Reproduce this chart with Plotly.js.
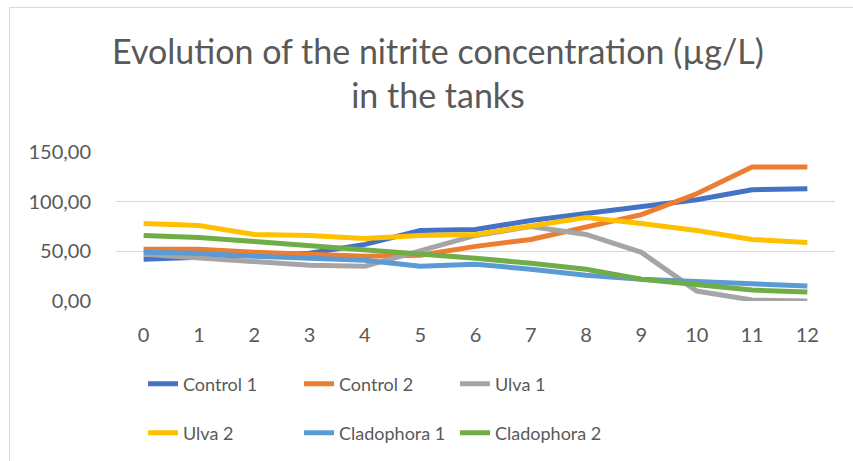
<!DOCTYPE html>
<html>
<head>
<meta charset="utf-8">
<script src="https://cdn.plot.ly/plotly-3.0.1.min.js"></script>
<style>
  html, body { margin: 0; padding: 0; background: #fff; }
  #wrap { position: relative; width: 853px; height: 461px; overflow: hidden; }
  #chart { position: absolute; left: 0; top: 0; width: 853px; height: 461px; }
  #frame { position: absolute; left: 9px; top: 7px; width: 900px; height: 500px;
           border-left: 1.5px solid #d9d9d9; border-top: 1.5px solid #d9d9d9; pointer-events: none; }
</style>
</head>
<body>
<div id="wrap">
  <div id="chart"></div>
  <div id="frame"></div>
</div>
<script>
const days = [0, 1, 2, 3, 4, 5, 6, 7, 8, 9, 10, 11, 12];
const control1 = [42, 44, 45, 48, 57, 71, 72, 81, 88, 95, 102, 112, 113];
const control2 = [52, 52, 49, 47, 45, 46, 55, 62, 74, 87, 108, 135, 135];
const ulva1 = [47, 43, 39, 36, 35, 51, 66, 75, 67, 49, 10, 1, 0];
const ulva2 = [78, 76, 67, 66, 63, 66, 67, 76, 84, 78, 71, 62, 59];
const cladophora1 = [49, 48, 45, 43, 41, 35, 37, 32, 26, 22, 20, 17, 15];
const cladophora2 = [66, 64, 60, 56, 52, 48, 43, 38, 32, 22, 16, 11, 9];
const seriesNames = ["Control 1", "Control 2", "Ulva 1", "Ulva 2", "Cladophora 1", "Cladophora 2"];
const seriesValues = [control1, control2, ulva1, ulva2, cladophora1, cladophora2];
const seriesColors = ["#4472C4", "#ED7D31", "#A5A5A5", "#FFC000", "#5B9BD5", "#70AD47"];
const yTicks = [0, 50, 100, 150];

const txt = "#595959";
const fontFam = "Lato, 'Open Sans', sans-serif";

const traces = seriesValues.map((vals, i) => ({
  type: "scatter",
  mode: "lines",
  name: seriesNames[i],
  x: days.map(String),
  y: vals,
  line: { color: seriesColors[i], width: 5 },
  legend: i < 3 ? "legend" : "legend2"
}));

const legendBase = {
  orientation: "h",
  xanchor: "left",
  yanchor: "middle",
  x: (143 - 116) / 719,
  entrywidth: 111,
  entrywidthmode: "pixels",
  font: { family: fontFam, size: 18, color: txt },
  bgcolor: "rgba(0,0,0,0)",
  traceorder: "normal"
};

const layout = {
  width: 853,
  height: 461,
  margin: { l: 116, r: 18, t: 152, b: 159 },
  paper_bgcolor: "#ffffff",
  plot_bgcolor: "#ffffff",
  separators: ",.",
  font: { family: fontFam, color: txt },
  title: {
    text: "Evolution of the nitrite concentration (µg/L)<br>in the tanks",
    font: { family: fontFam, size: 34, color: txt },
    x: 438 / 853,
    xref: "container",
    xanchor: "center",
    y: 1 - 64 / 461,
    yref: "container",
    yanchor: "top"
  },
  xaxis: {
    type: "category",
    range: [-0.5, 12.5],
    showgrid: false,
    zeroline: false,
    showline: false,
    ticks: "",
    ticklabelstandoff: 20,
    tickfont: { family: fontFam, size: 20, color: txt }
  },
  yaxis: {
    range: [0, 150],
    tickvals: yTicks,
    tickformat: ".2f",
    showgrid: true,
    gridcolor: "#d9d9d9",
    gridwidth: 1.5,
    zeroline: false,
    showline: false,
    ticks: "outside",
    ticklen: 20,
    tickcolor: "rgba(0,0,0,0)",
    tickfont: { family: fontFam, size: 20, color: txt }
  },
  legend: Object.assign({}, legendBase, { y: -(384 - 302) / 150 }),
  legend2: Object.assign({}, legendBase, { y: -(433 - 302) / 150 }),
  showlegend: true
};

Plotly.newPlot("chart", traces, layout, { displayModeBar: false, staticPlot: true });
</script>
</body>
</html>
